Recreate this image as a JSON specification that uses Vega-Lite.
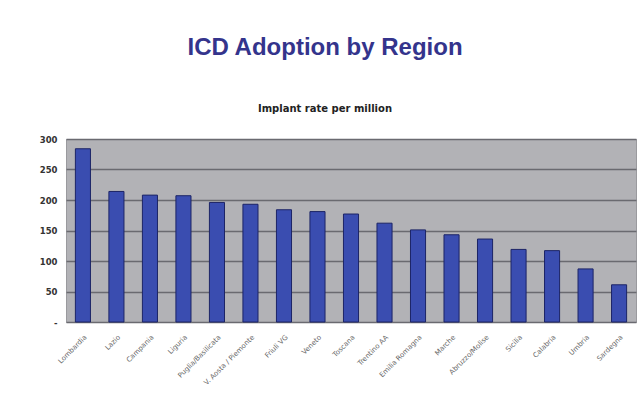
{
  "$schema": "https://vega.github.io/schema/vega-lite/v6.json",
  "width": 570,
  "height": 183,
  "autosize": {"type": "none"},
  "padding": {"left": 66, "top": 139, "right": 2, "bottom": 85},
  "background": "white",
  "title": {
    "text": "ICD Adoption by Region",
    "subtitle": "Implant rate per million",
    "anchor": "middle",
    "dx": -26,
    "font": "Liberation Sans",
    "fontSize": 24,
    "fontWeight": "bold",
    "color": "#34348c",
    "subtitleFont": "DejaVu Sans",
    "subtitleFontSize": 10,
    "subtitleFontWeight": "bold",
    "subtitleColor": "#222222",
    "subtitlePadding": 44,
    "offset": 21
  },
  "data": {
    "values": [
      {"region": "Lombardia", "rate": 284},
      {"region": "Lazio", "rate": 214},
      {"region": "Campania", "rate": 208},
      {"region": "Liguria", "rate": 207},
      {"region": "Puglia/Basilicata", "rate": 196},
      {"region": "V. Aosta / Piemonte", "rate": 193},
      {"region": "Friuli VG", "rate": 184},
      {"region": "Veneto", "rate": 181},
      {"region": "Toscana", "rate": 177},
      {"region": "Trentino AA", "rate": 162},
      {"region": "Emilia Romagna", "rate": 151},
      {"region": "Marche", "rate": 143},
      {"region": "Abruzzo/Molise", "rate": 136},
      {"region": "Sicilia", "rate": 119},
      {"region": "Calabria", "rate": 117},
      {"region": "Umbria", "rate": 87},
      {"region": "Sardegna", "rate": 61}
    ]
  },
  "mark": {"type": "bar", "color": "#3a4db0", "stroke": "#1c2466", "strokeWidth": 1},
  "encoding": {
    "x": {
      "field": "region",
      "type": "nominal",
      "sort": null,
      "scale": {"paddingInner": 0.55, "paddingOuter": 0.28},
      "axis": {
        "title": null,
        "labelAngle": -45,
        "labelFont": "DejaVu Sans",
        "labelFontSize": 7,
        "labelColor": "#666666",
        "labelAlign": "right",
        "labelBaseline": "top",
        "labelPadding": 11,
        "ticks": false,
        "domain": false,
        "grid": false
      }
    },
    "y": {
      "field": "rate",
      "type": "quantitative",
      "scale": {"domain": [0, 300]},
      "axis": {
        "title": null,
        "values": [0, 50, 100, 150, 200, 250, 300],
        "labelExpr": "datum.value == 0 ? '-' : datum.label",
        "labelFont": "DejaVu Sans",
        "labelFontSize": 8.5,
        "labelFontWeight": "bold",
        "labelColor": "#333333",
        "labelPadding": 9,
        "ticks": false,
        "domain": false,
        "grid": true,
        "gridColor": "#6a6a70",
        "gridWidth": 1.5,
        "gridOpacity": 1
      }
    }
  },
  "config": {
    "view": {"fill": "#b2b2b6", "stroke": "#9a9a9e", "strokeWidth": 1}
  }
}
